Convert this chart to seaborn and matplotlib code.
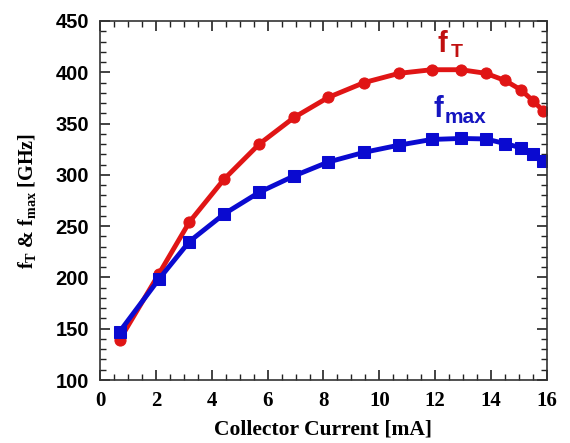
import numpy as np
import pandas as pd
import matplotlib
matplotlib.use("Agg")
import matplotlib.pyplot as plt
import seaborn as sns
from matplotlib.ticker import MultipleLocator

# Data
current_ma = [0.7, 2.1, 3.2, 4.45, 5.7, 6.95, 8.17, 9.46, 10.71, 11.87,
              12.92, 13.81, 14.5, 15.06, 15.51, 15.86]
ft_ghz = [139, 203, 254, 296, 330, 356, 375.5, 390, 399, 402.5,
          402.5, 399, 392, 383, 372, 362.5]
fmax_ghz = [147, 198, 235, 262, 283, 299, 312.5, 322, 329, 334.5,
            335.5, 335, 330.5, 326.5, 320, 313.5]

df = pd.DataFrame({"current": current_ma, "ft": ft_ghz, "fmax": fmax_ghz})

sns.set_style("ticks")
plt.rcParams['font.family'] = ['Liberation Serif', 'DejaVu Serif']
plt.rcParams['mathtext.fontset'] = 'custom'
plt.rcParams['mathtext.rm'] = 'Liberation Serif:bold'
plt.rcParams['mathtext.bf'] = 'Liberation Serif:bold'
plt.rcParams['text.color'] = 'black'
plt.rcParams['axes.labelcolor'] = 'black'
plt.rcParams['xtick.labelcolor'] = 'black'
plt.rcParams['ytick.labelcolor'] = 'black'

fig = plt.figure(figsize=(5.7, 4.43), dpi=100)
ax = fig.add_axes([0.1754, 0.1422, 0.7842, 0.8104])

red = "#e01515"
blue = "#0a0ad0"

sns.lineplot(data=df, x="current", y="ft", ax=ax, color=red, linewidth=3.5,
             marker="o", markersize=8, markeredgecolor=red)
sns.lineplot(data=df, x="current", y="fmax", ax=ax, color=blue, linewidth=3.5,
             marker="s", markersize=8, markeredgecolor=blue)

ax.set_xlim(0, 16)
ax.set_ylim(100, 450)
ax.xaxis.set_major_locator(MultipleLocator(2))
ax.xaxis.set_minor_locator(MultipleLocator(0.5))
ax.yaxis.set_major_locator(MultipleLocator(50))
ax.yaxis.set_minor_locator(MultipleLocator(10))
ax.tick_params(which="both", direction="in", top=True, right=True, color="#222222")
ax.tick_params(which="major", length=7, width=1.2)
ax.tick_params(which="minor", length=4, width=1.0)
for s in ax.spines.values():
    s.set_linewidth(1.2)
    s.set_color("#333333")

for lbl in ax.get_xticklabels():
    lbl.set_fontfamily("Liberation Serif")
    lbl.set_fontweight("bold")
    lbl.set_fontsize(15)
for lbl in ax.get_yticklabels():
    lbl.set_fontfamily("Liberation Sans")
    lbl.set_fontweight("bold")
    lbl.set_fontsize(14.5)
ax.tick_params(axis="x", pad=8)
ax.tick_params(axis="y", pad=8)

ax.set_xlabel("Collector Current [mA]", fontsize=15.5, fontweight="bold",
              fontfamily="Liberation Serif", labelpad=6)
ax.set_ylabel(r"f$_\mathregular{T}$ & f$_\mathregular{max}$ [GHz]", fontsize=14.5,
              fontweight="bold", fontfamily="Liberation Serif", labelpad=12)

ax.text(12.07, 419.8, "f", color="#c01010", fontsize=21, fontweight="bold",
        fontfamily="Liberation Sans")
ax.text(12.54, 415, "T", color="#c01010", fontsize=14, fontweight="bold",
        fontfamily="Liberation Sans")
ax.text(11.93, 356.4, "f", color="#1515c0", fontsize=21, fontweight="bold",
        fontfamily="Liberation Sans")
ax.text(12.32, 350.6, "max", color="#1515c0", fontsize=15, fontweight="bold",
        fontfamily="Liberation Sans")

fig.savefig("out.png", dpi=100)
